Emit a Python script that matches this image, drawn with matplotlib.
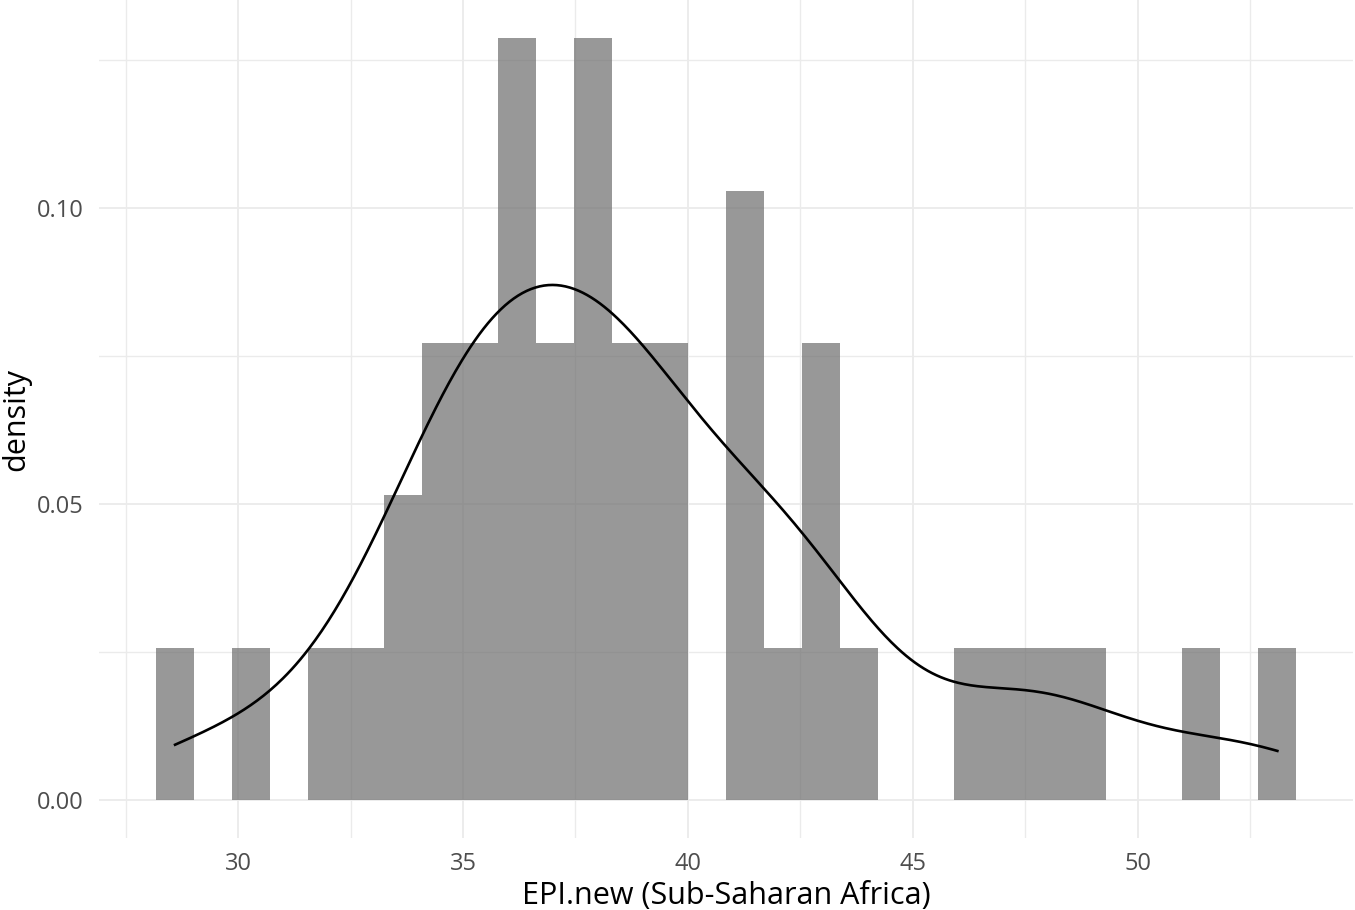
import numpy as np
import matplotlib
matplotlib.use("Agg")
import matplotlib.pyplot as plt

# EPI.new values for Sub-Saharan Africa (estimated from the histogram)
epi_values = [
    28.6,
    30.3,
    32.0,
    32.8,
    33.5, 33.9,
    34.3, 34.5, 34.8,
    35.0, 35.3, 35.6,
    35.8, 35.9, 36.0, 36.1, 36.3,
    36.7, 37.0, 37.4,
    37.9, 38.0, 38.1, 38.2, 38.3,
    38.5, 38.8, 39.0,
    39.3, 39.6, 39.9,
    41.0, 41.2, 41.4, 41.6,
    42.1,
    42.7, 43.0, 43.2,
    43.8,
    46.3,
    47.2,
    48.0,
    48.9,
    51.4,
    53.1,
]
x_ticks = [30, 35, 40, 45, 50]
x_tick_labels = ["30", "35", "40", "45", "50"]
y_ticks = [0.00, 0.05, 0.10]
y_tick_labels = ["0.00", "0.05", "0.10"]
x_title = "EPI.new (Sub-Saharan Africa)"
y_title = "density"
n_bins = 30

data = np.array(epi_values)
n = len(data)

# ggplot2-style binning: bins=30, first bin centred on the minimum
lo, hi = data.min(), data.max()
width = (hi - lo) / (n_bins - 1)
edges = lo - width / 2 + width * np.arange(n_bins + 1)

# Gaussian KDE with bw.nrd0 (as stat_density)
sd = data.std(ddof=1)
q75, q25 = np.percentile(data, [75, 25])
bw = 0.9 * min(sd, (q75 - q25) / 1.34) * n ** (-0.2)
xs = np.linspace(lo, hi, 512)
dens = np.exp(-0.5 * ((xs[:, None] - data[None, :]) / bw) ** 2).sum(axis=1) / (n * bw * np.sqrt(2 * np.pi))

plt.rcParams['font.family'] = ['Open Sans', 'DejaVu Sans']

fig = plt.figure(figsize=(13.55, 9.1), dpi=100)
ax = fig.add_axes([0.0731, 0.0792, 0.9257, 0.9204])

counts, _ = np.histogram(data, bins=edges)
ax.hist(data, bins=edges, density=True, color='#6D6D6D', alpha=0.7, zorder=2)
ax.plot(xs, dens, color='black', lw=1.9, zorder=3)

# limits with ggplot 5% expansion
xr = edges[-1] - edges[0]
ax.set_xlim(edges[0] - 0.05 * xr, edges[-1] + 0.05 * xr)
ymax = counts.max() / (n * width)
ax.set_ylim(-0.05 * ymax, ymax * 1.05)

ax.set_xticks(x_ticks)
ax.set_xticklabels(x_tick_labels)
ax.set_yticks(y_ticks)
ax.set_yticklabels(y_tick_labels)
ax.set_xticks([27.5, 32.5, 37.5, 42.5, 47.5, 52.5], minor=True)
ax.set_yticks([0.025, 0.075, 0.125], minor=True)

ax.grid(which='major', color='#EBEBEB', lw=1.3, zorder=0)
ax.grid(which='minor', color='#EBEBEB', lw=1.0, zorder=0)
ax.set_axisbelow(True)
for s in ax.spines.values():
    s.set_visible(False)
ax.tick_params(which='both', length=0, labelsize=17, labelcolor='#4D4D4D')
ax.tick_params(axis='y', pad=11)
ax.tick_params(axis='x', pad=10)

ax.set_xlabel(x_title, fontsize=22, color='black', labelpad=4)
ax.set_ylabel(y_title, fontsize=22, color='black', labelpad=4)

fig.savefig('out.png', dpi=100, facecolor='white')
